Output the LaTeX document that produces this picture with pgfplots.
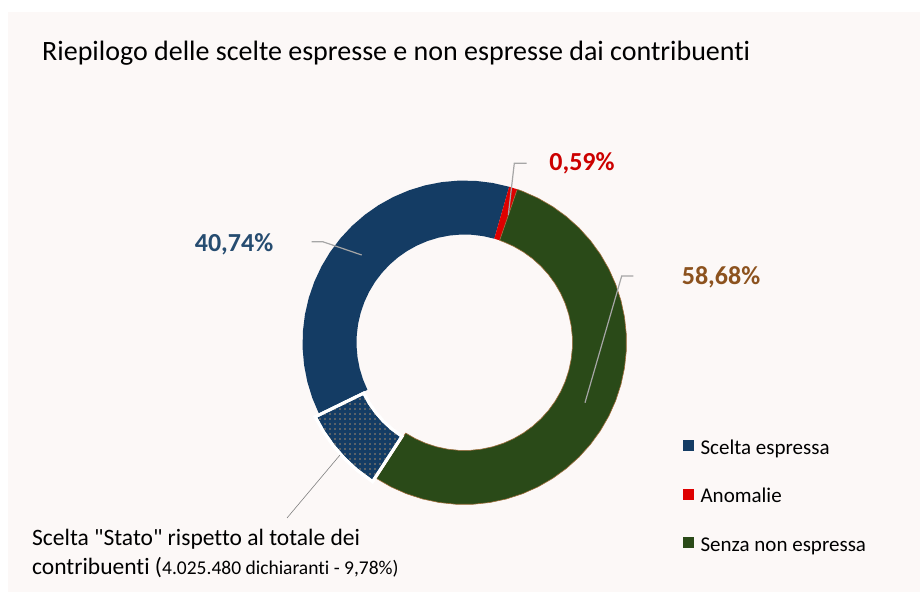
\documentclass[border=0pt]{standalone}
\usepackage{pgfplots}
\pgfplotsset{compat=1.18}
\usepgfplotslibrary{polar}
\usetikzlibrary{patterns.meta}
\usepackage{fontspec}
\setmainfont{Carlito}[Ligatures={NoCommon,TeXOff}]
\definecolor{bgpink}{RGB}{252,248,247}
\definecolor{cblue}{RGB}{20,60,100}
\definecolor{cred}{RGB}{222,0,0}
\definecolor{cgreen}{RGB}{42,74,24}
\definecolor{cgreenedge}{RGB}{160,110,60}
\definecolor{lblblue}{RGB}{38,76,112}
\definecolor{lblred}{RGB}{204,0,0}
\definecolor{lblbrown}{RGB}{140,82,30}
\definecolor{leader}{RGB}{166,166,166}
\definecolor{dotcol}{RGB}{160,138,112}
\begin{document}
\begin{tikzpicture}[x=1pt,y=1pt]
\useasboundingbox (0,0) rectangle (921,594);
\fill[white] (0,0) rectangle (921,594);
\fill[bgpink] (8,2) rectangle (920,582);
\node[anchor=base west,inner sep=0pt,font=\fontsize{28}{32}\selectfont] at (42,533) {Riepilogo delle scelte espresse e non espresse dai contribuenti};
\begin{polaraxis}[
  hide axis, scale only axis, width=340pt, height=340pt,
  xmin=0, xmax=360, ymin=0, ymax=170,
  at={(464.5pt,251.5pt)}, anchor=center, clip=false,
  legend style={at={(axis description cs:1.1426,0.216)}, anchor=north west,
    draw=none, fill=none, inner sep=0pt, row sep=28.5pt,
    font=\fontsize{21}{24}\selectfont,
    nodes={inner sep=0pt, text height=15pt, text depth=5pt},
    /tikz/every odd column/.append style={column sep=7pt}},
  legend cell align=left,
]
% Scelta espressa (share of ring drawn), angles in degrees, radius in pt
\addplot[fill=cblue, draw=none, forget plot] coordinates {
 (74,162) (80,162) (86,162) (92,162) (98,162) (104,162) (110,162) (116,162)
 (122,162) (128,162) (134,162) (140,162) (146,162) (152,162) (158,162) (164,162)
 (170,162) (176,162) (182,162) (188,162) (194,162) (200,162) (206,162)
 (206,108) (200,108) (194,108) (188,108) (182,108) (176,108) (170,108) (164,108)
 (158,108) (152,108) (146,108) (140,108) (134,108) (128,108) (122,108) (116,108)
 (110,108) (104,108) (98,108) (92,108) (86,108) (80,108) (74,108)
} -- cycle;
% Anomalie
\addplot[fill=cred, draw=none, forget plot] coordinates {
 (71,162) (72.5,162) (74,162) (74,108) (72.5,108) (71,108)
} -- cycle;
% Senza non espressa
\addplot[fill=cgreen, draw=cgreenedge, line width=0.6pt, forget plot] coordinates {
 (-123,162) (-117,162) (-111,162) (-105,162) (-99,162) (-93,162) (-87,162) (-81,162)
 (-75,162) (-69,162) (-63,162) (-57,162) (-51,162) (-45,162) (-39,162) (-33,162)
 (-27,162) (-21,162) (-15,162) (-9,162) (-3,162) (3,162) (9,162) (15,162)
 (21,162) (27,162) (33,162) (39,162) (45,162) (51,162) (57,162) (63,162) (69,162) (71,162)
 (71,108) (69,108) (63,108) (57,108) (51,108) (45,108) (39,108) (33,108) (27,108)
 (21,108) (15,108) (9,108) (3,108) (-3,108) (-9,108) (-15,108) (-21,108) (-27,108)
 (-33,108) (-39,108) (-45,108) (-51,108) (-57,108) (-63,108) (-69,108) (-75,108)
 (-81,108) (-87,108) (-93,108) (-99,108) (-105,108) (-111,108) (-117,108) (-123,108)
} -- cycle;
% Scelta "Stato" (exploded)
\addplot[fill=cblue, draw=white, line width=3pt, xshift=-3.7pt, yshift=-3.3pt, forget plot,
  postaction={pattern={Dots[distance=5pt, radius=0.9pt]}, pattern color=dotcol}] coordinates {
 (206,162) (212,162) (218,162) (224,162) (230,162) (237,162)
 (237,108) (230,108) (224,108) (218,108) (212,108) (206,108)
} -- cycle;
\addlegendimage{legend image code/.code={\fill[cblue] (0pt,-1pt) rectangle (10pt,9pt);}}
\addlegendentry{Scelta espressa}
\addlegendimage{legend image code/.code={\fill[cred] (0pt,-1pt) rectangle (10pt,9pt);}}
\addlegendentry{Anomalie}
\addlegendimage{legend image code/.code={\fill[cgreen] (0pt,-1pt) rectangle (10pt,9pt);}}
\addlegendentry{Senza non espressa}
\end{polaraxis}
% leader lines
\draw[leader, line width=1.2pt] (311.7,352.3) -- (322.7,352.3) -- (361.7,339);
\draw[leader, line width=1.2pt] (526.7,430.7) -- (514.3,430.7) -- (508.3,379);
\draw[leader, line width=1.2pt] (633.3,318) -- (621.7,318) -- (585,191.3);
\draw[gray, line width=0.6pt] (340,139) -- (287,76);
% data labels
\node[font=\bfseries\fontsize{26}{30}\selectfont, text=lblblue, inner sep=0pt] at (234,350) {40,74\%};
\node[font=\bfseries\fontsize{26}{30}\selectfont, text=lblred, inner sep=0pt] at (582,431) {0,59\%};
\node[font=\bfseries\fontsize{26}{30}\selectfont, text=lblbrown, inner sep=0pt] at (721,317) {58,68\%};
\node[anchor=base west, inner sep=0pt, font=\fontsize{23.5}{29}\selectfont] at (32,48) {Scelta "Stato" rispetto al totale dei};
\node[anchor=base west, inner sep=0pt, font=\fontsize{23.5}{29}\selectfont] at (32,19) {contribuenti ({\fontsize{19.5}{24}\selectfont 4.025.480 dichiaranti - 9,78\%)}};
\end{tikzpicture}
\end{document}
